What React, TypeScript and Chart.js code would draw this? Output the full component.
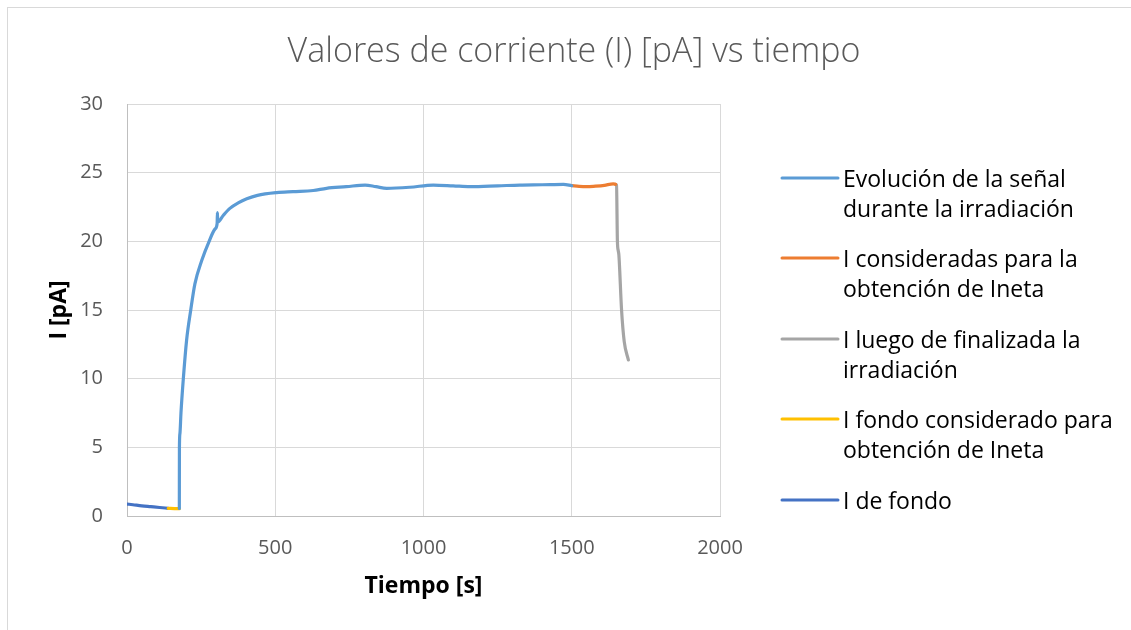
import { useEffect, useRef } from "react";
import { Chart, registerables } from "chart.js";

Chart.register(...registerables);

const chartTitle = "Valores de corriente (I) [pA] vs tiempo";
const xAxisTitle = "Tiempo [s]";
const yAxisTitle = "I [pA]";
const xTicks = [0, 500, 1000, 1500, 2000];
const yTicks = [0, 5, 10, 15, 20, 25, 30];

// Evolución de la señal durante la irradiación
const evolTime = [176.5, 176.8, 178.5, 182, 190, 201, 215, 229, 252, 277, 297, 304, 305, 306, 325, 347, 375, 404, 440, 505, 560, 628, 673, 740, 803, 840, 876, 954, 1033, 1100, 1157, 1250, 1325, 1400, 1472, 1500];
const evolCurrent = [0.55, 4.9, 6.0, 7.5, 10.0, 12.8, 15.0, 16.9, 18.6, 20.0, 20.9, 21.3, 22.1, 21.4, 21.9, 22.4, 22.8, 23.1, 23.35, 23.55, 23.62, 23.7, 23.86, 23.98, 24.1, 23.98, 23.86, 23.94, 24.1, 24.04, 23.98, 24.04, 24.1, 24.12, 24.15, 24.05];

// I consideradas para la obtención de Ineta
const netaTime = [1500, 1525, 1550, 1580, 1610, 1640, 1648];
const netaCurrent = [24.05, 24.0, 23.98, 24.02, 24.08, 24.18, 24.15];

// I luego de finalizada la irradiación
const afterTime = [1648, 1651, 1654, 1657, 1659, 1668, 1677, 1691];
const afterCurrent = [24.15, 24.1, 20.0, 19.3, 19.0, 15.0, 12.7, 11.36];

// I fondo considerado para obtención de Ineta
const fondoNetaTime = [139, 160, 176.5];
const fondoNetaCurrent = [0.56, 0.54, 0.53];

// I de fondo
const fondoTime = [0, 20, 50, 80, 110, 139];
const fondoCurrent = [0.87, 0.82, 0.74, 0.68, 0.62, 0.56];

const seriesLabels = [
  ["Evolución de la señal", "durante la irradiación"],
  ["I consideradas para la", "obtención de Ineta"],
  ["I luego de finalizada la", "irradiación"],
  ["I fondo considerado para", "obtención de Ineta"],
  ["I de fondo"],
];
const seriesColors = ["#5B9BD5", "#ED7D31", "#A5A5A5", "#FFC000", "#4472C4"];

const FONT = "'Open Sans', 'DejaVu Sans', sans-serif";

function toPoints(xs: number[], ys: number[]) {
  return xs.map((x, i) => ({ x, y: ys[i] }));
}

const titleAndLegend = {
  id: "titleAndLegend",
  afterDraw(chart: any) {
    const ctx = chart.ctx as CanvasRenderingContext2D;
    const area = chart.chartArea;
    ctx.save();
    // chart title
    ctx.font = `300 34px ${FONT}`;
    ctx.fillStyle = "#595959";
    ctx.textAlign = "center";
    ctx.textBaseline = "middle";
    ctx.fillText(chartTitle, 566, 44);
    // legend
    const lineStart = area.right + 62;
    const lineEnd = lineStart + 56;
    const textX = lineEnd + 5;
    const itemYs = [170, 250, 331, 411, 492];
    ctx.font = `23px ${FONT}`;
    ctx.textBaseline = "middle";
    ctx.textAlign = "left";
    seriesLabels.forEach((lines, i) => {
      const y = itemYs[i];
      ctx.strokeStyle = seriesColors[i];
      ctx.lineWidth = 3;
      ctx.lineCap = "round";
      ctx.beginPath();
      ctx.moveTo(lineStart, y);
      ctx.lineTo(lineEnd, y);
      ctx.stroke();
      ctx.fillStyle = "#000000";
      lines.forEach((t, j) => ctx.fillText(t, textX, y + 2 + j * 30));
    });
    ctx.restore();
  },
};

export default function App() {
  const ref = useRef<HTMLCanvasElement>(null);
  useEffect(() => {
    if (!ref.current) return;
    const mk = (i: number, xs: number[], ys: number[]) => ({
      label: seriesLabels[i].join(" "),
      data: toPoints(xs, ys),
      borderColor: seriesColors[i],
      backgroundColor: seriesColors[i],
      borderWidth: 3.2,
      pointRadius: 0,
      showLine: true,
      cubicInterpolationMode: "monotone" as const,
      borderCapStyle: "round" as const,
      borderJoinStyle: "round" as const,
    });
    const chart = new Chart(ref.current, {
      type: "scatter",
      data: {
        datasets: [
          mk(0, evolTime, evolCurrent),
          mk(1, netaTime, netaCurrent),
          mk(2, afterTime, afterCurrent),
          mk(3, fondoNetaTime, fondoNetaCurrent),
          mk(4, fondoTime, fondoCurrent),
        ],
      },
      options: {
        animation: false,
        responsive: false,
        layout: { padding: { left: 0, right: 411, top: 96, bottom: 0 } },
        plugins: {
          legend: { display: false },
          tooltip: { enabled: false },
          title: { display: false },
        },
        scales: {
          x: {
            type: "linear",
            min: 0,
            max: 2000,
            afterBuildTicks: (s: any) => {
              s.ticks = xTicks.map((v) => ({ value: v }));
            },
            afterFit: (s: any) => {
              s.height = 114;
            },
            grid: { color: "#d9d9d9", drawTicks: false },
            border: { color: "#bfbfbf", width: 1 },
            ticks: {
              color: "#595959",
              font: { family: FONT, size: 20 },
              padding: 20,
              callback: (v: any) => String(v),
            },
            title: {
              display: true,
              text: xAxisTitle,
              color: "#000000",
              font: { family: FONT, size: 23, weight: "bold", lineHeight: 1.2 },
              padding: { top: 0, bottom: 30 },
            },
          },
          y: {
            type: "linear",
            min: 0,
            max: 30,
            afterBuildTicks: (s: any) => {
              s.ticks = yTicks.map((v) => ({ value: v }));
            },
            afterFit: (s: any) => {
              s.width = 119;
            },
            grid: { color: "#d9d9d9", drawTicks: false },
            border: { color: "#bfbfbf", width: 1 },
            ticks: {
              color: "#595959",
              font: { family: FONT, size: 20 },
              padding: 24,
              callback: (v: any) => String(v),
            },
            title: {
              display: true,
              text: yAxisTitle,
              color: "#000000",
              font: { family: FONT, size: 23, weight: "bold", lineHeight: 1.2 },
              padding: { top: 38, bottom: 0 },
            },
          },
        },
      },
      plugins: [titleAndLegend],
    });
    return () => chart.destroy();
  }, []);

  return (
    <div
      style={{
        position: "absolute",
        left: 7,
        top: 7,
        width: 1200,
        height: 700,
        borderLeft: "1px solid #d9d9d9",
        borderTop: "1px solid #d9d9d9",
        background: "#ffffff",
      }}
    >
      <canvas ref={ref} width={1123} height={622} style={{ display: "block", width: 1123, height: 622 }} />
    </div>
  );
}
